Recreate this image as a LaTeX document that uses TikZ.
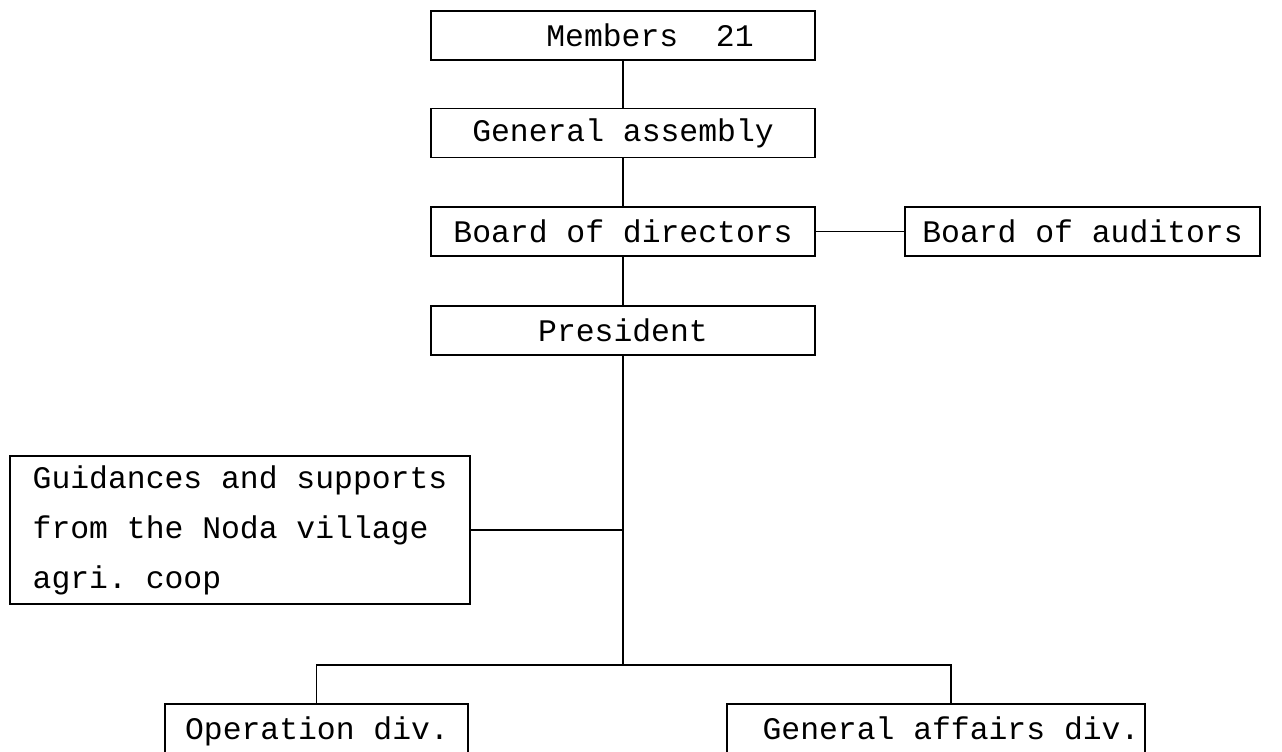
\documentclass[tikz,border=0pt]{standalone}
\usepackage{fontspec}
\setmonofont{Liberation Mono}[WordSpace={1,0,0}]
\begin{document}
\frenchspacing
\begin{tikzpicture}[x=0.5pt,y=-0.5pt,
  line width=0.9pt,
  every node/.style={font=\ttfamily\fontsize{15.7pt}{25pt}\selectfont},
  box/.style={draw, rectangle, inner sep=0pt, align=center,
    minimum width=192pt, minimum height=24.5pt},
  plain/.style={inner sep=0pt, anchor=base}]
\useasboundingbox (0,0) rectangle (1282,751);
\clip (0,0) rectangle (1282,751);

% vertical trunk of the chart
\coordinate (spine) at (623,0);

% main chain of boxes
\node[box] (members) at (623,35.5) {\hspace*{27pt}Members\ \ 21};
\node[box] (assembly) at (623,133) {General assembly};
\node[box] (directors) at (623,231.5) {Board of directors};
\node[box, minimum width=177.5pt] (auditors) at (1082.5,231.5) {Board of auditors};
\node[box] (president) at (623,330.5) {President};

% outside support
\node[box, minimum width=230pt, minimum height=74pt, align=left] (guidance) at (240,530)
  {Guidances and supports\\from the Noda village\\agri. coop};

% lower divisions (their boxes run past the bottom edge)
\node[draw, rectangle, minimum width=151.5pt, minimum height=50pt] (operation) at (316.5,754) {};
\node[plain] (operationtext) at (317,739) {Operation div.};
\node[draw, rectangle, minimum width=209pt, minimum height=50pt] (affairs) at (936,754) {};
\node[plain] (affairstext) at (951,739) {General affairs div.};

% connectors
\draw (members.south -| spine) -- (assembly.north -| spine);
\draw (assembly.south -| spine) -- (directors.north -| spine);
\draw (directors.south -| spine) -- (president.north -| spine);
\draw (directors.east) -- (auditors.west);
\coordinate (branch) at (623,665);
\draw (president.south -| spine) -- (branch);
\draw (guidance.east) -- (guidance.east -| spine);
\draw (operation.north) |- (branch) -| (affairstext.north |- affairs.north);
\end{tikzpicture}
\end{document}
